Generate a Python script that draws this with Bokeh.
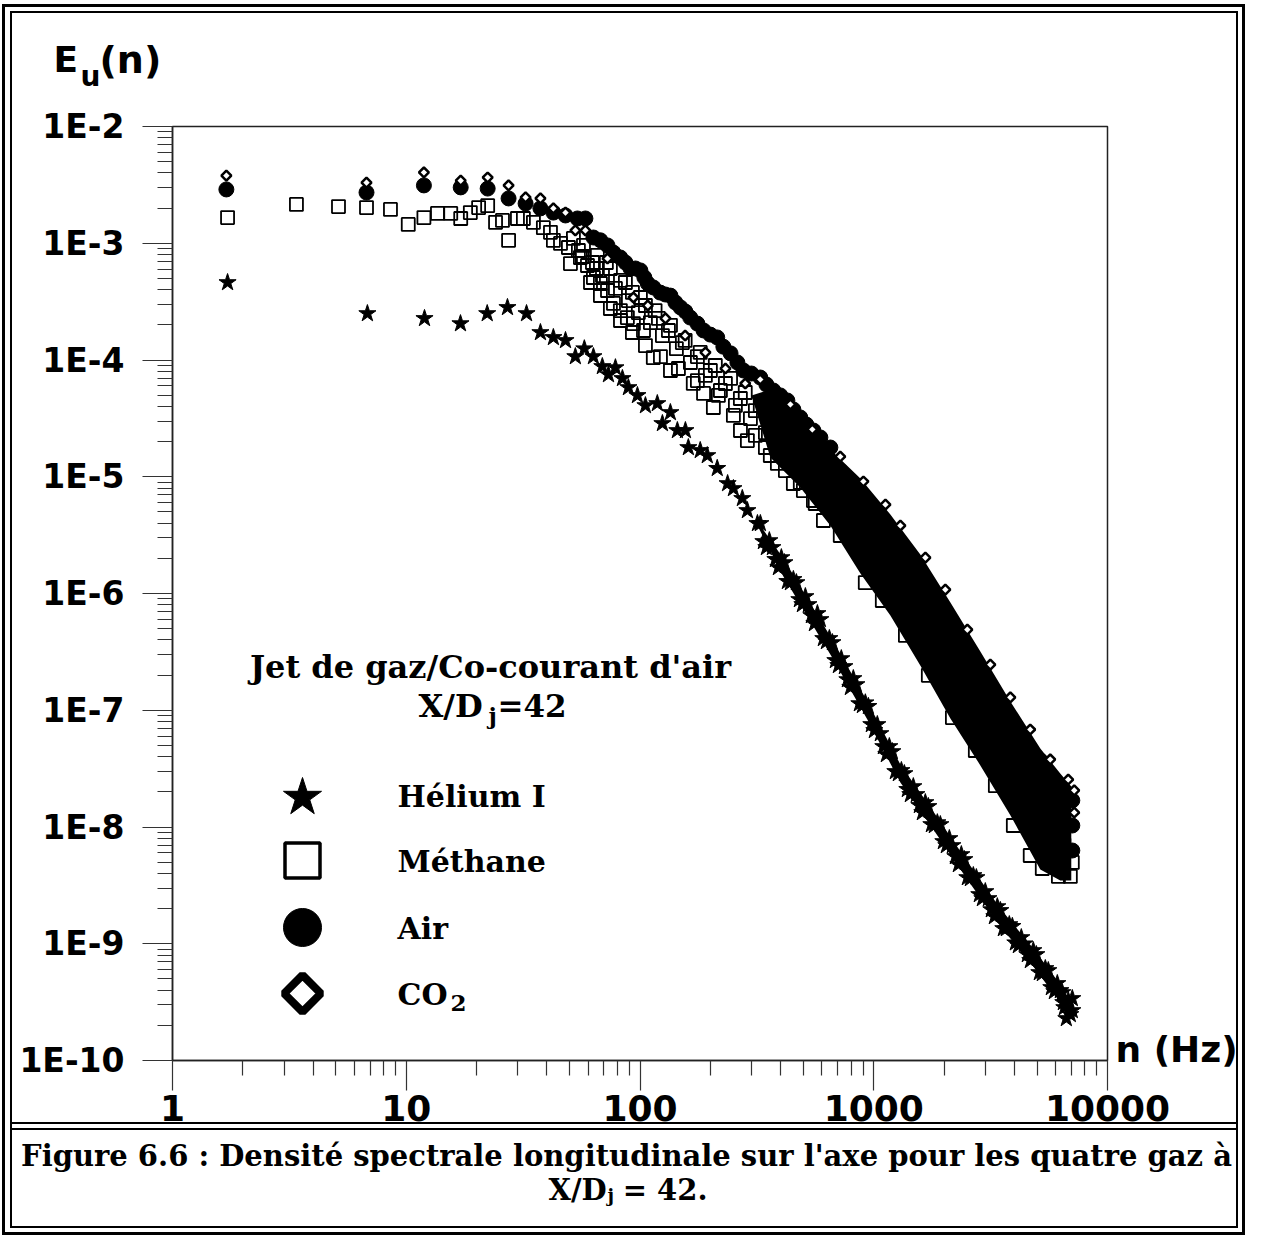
import math
from bokeh.plotting import figure
from bokeh.models import FixedTicker, CustomJSTickFormatter, Label
from bokeh.embed import file_html
from bokeh.resources import INLINE

# ---------------- data ----------------
x_ticks = [1, 10, 100, 1000, 10000]
x_tick_labels = ["1", "10", "100", "1000", "10000"]
y_ticks = [1e-10, 1e-9, 1e-8, 1e-7, 1e-6, 1e-5, 1e-4, 1e-3, 1e-2]
y_tick_labels = ["1E-10", "1E-9", "1E-8", "1E-7", "1E-6", "1E-5", "1E-4", "1E-3", "1E-2"]

helium_n = [1.72, 6.82, 11.97, 17.06, 22.2, 27.1, 32.7, 37.5, 42.6, 48.0,
            52.9, 57.8, 63.2, 69.0, 73.3, 78.5, 84.1, 89.2, 97.5, 105.5,
            118.6, 124.7, 134.9, 144.5, 156.4, 161, 181, 194, 214, 237,
            251, 274, 288, 318,
            327.3, 347.2, 368.4, 390.8, 414.7, 439.9, 466.7, 495.1, 525.3, 557.3,
            591.1, 627.2, 665.4, 705.8, 748.8, 794.2, 842.6, 894.0, 948.3, 1006,
            1067, 1132, 1201, 1274, 1352, 1434, 1521, 1614, 1712, 1816,
            1927, 2044, 2169, 2301, 2441, 2590, 2748, 2915, 3093, 3281,
            3480, 3692, 3917, 4155, 4409, 4676, 4961, 5262, 5582, 5923,
            6283, 6535, 6798, 6933, 6665, 7070, 7070, 6408,
            337.2, 357.6, 379.5, 402.5, 427.0, 453.1, 480.6, 509.9, 540.9, 574.0,
            608.6, 645.8, 685.1, 726.6, 771.2, 817.9, 867.9, 920.6, 976.5, 1036,
            1099, 1166, 1237, 1313, 1392, 1477, 1567, 1662, 1764, 1871,
            1985, 2106, 2234, 2370, 2514, 2667, 2829, 3001, 3184, 3378,
            3584, 3802, 4034, 4279, 4539, 4815, 5109, 5420, 5750, 6100,
            6471]
helium_e = [4.61e-4, 2.50e-4, 2.27e-4, 2.05e-4, 2.50e-4, 2.82e-4, 2.50e-4, 1.72e-4, 1.56e-4, 1.47e-4,
            1.07e-4, 1.25e-4, 1.07e-4, 8.8e-5, 7.5e-5, 8.6e-5, 6.95e-5, 5.81e-5, 4.97e-5, 4.07e-5,
            4.24e-5, 2.86e-5, 3.55e-5, 2.49e-5, 2.49e-5, 1.78e-5, 1.68e-5, 1.52e-5, 1.18e-5, 8.75e-6,
            7.93e-6, 6.52e-6, 5.14e-6, 3.98e-6,
            3.98e-6, 2.48e-6, 2.48e-6, 1.67e-6, 1.84e-6, 1.24e-6, 1.24e-6, 8.05e-7, 8.05e-7, 5.53e-7,
            5.99e-7, 3.88e-7, 3.80e-7, 2.42e-7, 2.37e-7, 1.57e-7, 1.66e-7, 1.10e-7, 1.08e-7, 6.71e-8,
            6.32e-8, 4.18e-8, 4.43e-8, 2.87e-8, 2.87e-8, 1.90e-8, 1.90e-8, 1.33e-8, 1.50e-8, 1.03e-8,
            1.05e-8, 6.94e-9, 6.94e-9, 4.77e-9, 5.27e-9, 3.62e-9, 3.69e-9, 2.44e-9, 2.44e-9, 1.71e-9,
            1.93e-9, 1.35e-9, 1.41e-9, 9.66e-10, 1.00e-9, 7.19e-10, 8.09e-10, 5.56e-10, 5.90e-10, 3.90e-10,
            3.98e-10, 2.84e-10, 3.27e-10, 2.48e-10, 2.29e-10, 3.40e-10, 2.68e-10, 3.82e-10,
            2.79e-6, 2.84e-6, 1.96e-6, 2.03e-6, 1.27e-6, 1.32e-6, 8.88e-7, 9.42e-7, 6.48e-7, 6.74e-7,
            4.12e-7, 4.12e-7, 2.67e-7, 2.77e-7, 1.83e-7, 1.87e-7, 1.14e-7, 1.16e-7, 7.55e-8, 7.55e-8,
            4.89e-8, 4.89e-8, 2.99e-8, 3.05e-8, 2.10e-8, 2.22e-8, 1.53e-8, 1.62e-8, 1.05e-8, 1.09e-8,
            7.51e-9, 7.97e-9, 5.59e-9, 5.81e-9, 3.69e-9, 3.84e-9, 2.64e-9, 2.80e-9, 1.96e-9, 2.08e-9,
            1.35e-9, 1.46e-9, 1.02e-9, 1.13e-9, 8.09e-10, 8.75e-10, 5.67e-10, 6.14e-10, 4.22e-10, 4.57e-10,
            3.14e-10]

methane_n = [1.72, 3.39, 5.13, 6.76, 8.56, 10.2, 11.9, 13.6, 15.5, 17.1,
             18.8, 20.4, 22.3, 24.1, 25.8, 27.4, 29.9, 31.7, 35.0, 38.6,
             41.4, 42.6, 45.7, 49.4, 50.4, 55.6, 59.6, 63.2, 67.7, 72.6,
             77.0, 82.4, 88.3, 93.7, 103.5, 114, 135, 169, 187, 206,
             269, 288, 387, 453, 552, 609,
             51.9, 57.3, 65.7, 74.7, 86.6, 100.4, 116, 135, 156, 181,
             210, 244, 282, 327, 379, 440, 510, 591,
             54.5, 62.6, 69.1, 78.5, 89.2, 98.4, 110.8, 124.7, 143.1, 164.3,
             190.4, 220.8, 255.9, 296.7, 343.9, 398.6, 462.0, 535.6,
             56.7, 65.1, 71.8, 82.5, 92.8, 105.5, 119.9, 132.3, 151.8, 176.0,
             200.0, 231.9, 268.8, 311.6, 361.2, 418.8, 485.3,
             61.4, 67.7, 74.7, 82.5, 92.8, 105.5, 122.3, 146.0, 176.0, 216.4,
             250.9, 311.6, 343.9, 418.8, 500.0,
             361, 485, 562, 719, 920, 1088, 1366, 1712, 2170, 2720,
             3313, 3955, 4671, 5260, 6166, 6934, 7070]
methane_e = [1.66e-3, 2.15e-3, 2.06e-3, 2.02e-3, 1.95e-3, 1.45e-3, 1.66e-3, 1.80e-3, 1.80e-3, 1.63e-3,
             1.83e-3, 2.02e-3, 2.10e-3, 1.51e-3, 1.57e-3, 1.06e-3, 1.63e-3, 1.63e-3, 1.51e-3, 1.36e-3,
             1.24e-3, 1.06e-3, 9.96e-4, 9.2e-4, 6.7e-4, 7.55e-4, 6.45e-4, 5.09e-4, 4.52e-4, 3.94e-4,
             3.05e-4, 2.65e-4, 2.31e-4, 2.05e-4, 1.79e-4, 1.05e-4, 8.13e-5, 6.3e-5, 5.17e-5, 3.92e-5,
             2.49e-5, 2.04e-5, 1.30e-5, 8.75e-6, 6.26e-6, 4.22e-6,
             1.10e-3, 9.58e-4, 7.86e-4, 6.08e-4, 4.61e-4, 3.43e-4, 2.65e-4, 1.98e-4, 1.47e-4, 1.16e-4,
             8.97e-5, 6.95e-5, 5.27e-5, 4.08e-5, 3.03e-5, 2.17e-5, 1.61e-5, 1.13e-5,
             8.67e-4, 6.84e-4, 5.29e-4, 4.10e-4, 3.23e-4, 2.55e-4, 2.09e-4, 1.62e-4, 1.25e-4, 9.52e-5,
             7.37e-5, 5.48e-5, 4.08e-5, 3.15e-5, 2.39e-5, 1.78e-5, 1.25e-5, 9.29e-6,
             7.70e-4, 6.08e-4, 6.84e-4, 4.80e-4, 3.79e-4, 2.93e-4, 2.27e-4, 1.79e-4, 1.41e-4, 1.07e-4,
             8.13e-5, 6.29e-5, 4.68e-5, 3.69e-5, 2.75e-5, 2.04e-5, 1.43e-5,
             4.61e-4, 3.57e-4, 2.76e-4, 2.18e-4, 1.72e-4, 1.33e-4, 1.07e-4, 8.46e-5, 6.67e-5, 4.97e-5,
             3.35e-5, 2.26e-5, 1.78e-5, 1.13e-5, 7.62e-6,
             1.52e-5, 8.93e-6, 5.90e-6, 3.14e-6, 1.24e-6, 8.71e-7, 4.37e-7, 1.99e-7, 8.66e-8, 4.52e-8,
             2.26e-8, 1.03e-8, 5.70e-9, 4.41e-9, 3.77e-9, 3.77e-9, 4.97e-9]

air_n = [1.70, 6.76, 11.9, 17.1, 22.3, 27.4, 32.4, 37.5, 42.6, 48.0,
         54.0, 58.4, 63.2, 72.6, 82.4, 91.0, 100.4, 108, 122, 135,
         149, 164, 187, 214, 244, 277, 327, 372, 427, 485,
         552, 719, 1067, 1582, 2344, 3477, 5160, 7070, 7070, 7070,
         67.7, 76.9, 86.6, 95.6, 104.4, 114.1, 128.4, 141.7, 156.4, 176.0,
         200.0, 227.3, 261.0, 299.6, 347.2, 398.6, 453.1, 514.8, 591.1, 652.2]
air_e = [2.89e-3, 2.72e-3, 3.13e-3, 3.01e-3, 2.94e-3, 2.42e-3, 2.19e-3, 1.99e-3, 1.83e-3, 1.73e-3,
         1.63e-3, 1.63e-3, 1.12e-3, 9.58e-4, 7.55e-4, 6.08e-4, 5.85e-4, 4.52e-4, 3.78e-4, 3.56e-4,
         2.82e-4, 2.31e-4, 1.79e-4, 1.56e-4, 1.14e-4, 8.13e-5, 7.08e-5, 5.48e-5, 4.50e-5, 3.22e-5,
         2.49e-5, 1.13e-5, 3.82e-6, 1.29e-6, 3.96e-7, 1.21e-7, 3.72e-8, 1.69e-8, 1.03e-8, 6.29e-9,
         1.06e-3, 8.33e-4, 6.84e-4, 6.08e-4, 5.09e-4, 4.18e-4, 3.64e-4, 3.11e-4, 2.60e-4, 2.05e-4,
         1.65e-4, 1.30e-4, 9.52e-5, 7.66e-5, 6.17e-5, 4.97e-5, 3.77e-5, 2.80e-5, 2.17e-5, 1.78e-5]

co2_n = [1.70, 6.76, 11.9, 17.1, 22.3, 27.4, 32.4, 37.5, 42.6, 48.0,
         52.9, 58.4, 72.6, 93.7, 108, 128.5, 156, 190.5, 232, 282,
         327, 440, 546, 719, 903, 1122, 1300, 1663, 2024, 2514,
         3153, 3840, 4671, 5690, 6792, 7206, 7206]
co2_e = [3.80e-3, 3.31e-3, 4.04e-3, 3.44e-3, 3.66e-3, 3.13e-3, 2.47e-3, 2.42e-3, 1.99e-3, 1.83e-3,
         1.29e-3, 1.29e-3, 7.40e-4, 3.43e-4, 2.93e-4, 2.27e-4, 1.62e-4, 1.16e-4, 8.45e-5, 6.29e-5,
         6.81e-5, 4.16e-5, 2.54e-5, 1.49e-5, 9.11e-6, 5.78e-6, 3.82e-6, 2.03e-6, 1.08e-6, 4.91e-7,
         2.46e-7, 1.29e-7, 6.84e-8, 3.79e-8, 2.55e-8, 2.06e-8, 1.33e-8]

# scatter range (upper / lower extent) of the dense high-frequency spectra
helium_band_n = [318, 410.6, 485, 671.8, 938.9, 1300, 1798, 2514, 3480, 4815, 6283, 6798]
helium_band_hi = [4.14e-6, 1.99e-6, 1.15e-6, 3.88e-7, 1.19e-7, 3.43e-8, 1.36e-8, 5.06e-9, 2.00e-9, 9.11e-10, 4.48e-10, 3.40e-10]
helium_band_lo = [3.82e-6, 1.40e-6, 8.05e-7, 2.72e-7, 8.33e-8, 2.40e-8, 9.52e-9, 3.55e-9, 1.41e-9, 6.39e-10, 3.14e-10, 2.38e-10]

band_n = [300, 361, 485, 652, 877, 1178, 1582, 2128, 2858, 3840, 5160, 6280, 7000]
co2_band_hi = [4.97e-5, 5.58e-5, 3.15e-5, 1.71e-5, 9.66e-6, 4.75e-6, 2.16e-6, 8.38e-7, 3.18e-7, 1.19e-7, 4.70e-8, 2.87e-8, 2.22e-8]
co2_band_lo = [4.97e-5, 2.44e-5, 1.38e-5, 7.48e-6, 4.22e-6, 2.07e-6, 9.42e-7, 3.66e-7, 1.39e-7, 5.19e-8, 2.06e-8, 1.26e-8, 9.7e-9]
air_band_hi = [4.97e-5, 3.62e-5, 2.04e-5, 1.11e-5, 6.26e-6, 3.08e-6, 1.40e-6, 5.42e-7, 2.07e-7, 7.71e-8, 3.05e-8, 1.86e-8, 1.44e-8]
air_band_lo = [4.97e-5, 2.25e-5, 1.25e-5, 5.90e-6, 2.29e-6, 1.00e-6, 3.73e-7, 1.31e-7, 5.19e-8, 1.94e-8, 6.67e-9, 5.37e-9, 5.37e-9]
methane_band_hi = [4.97e-5, 3.35e-5, 1.85e-5, 8.75e-6, 3.40e-6, 1.48e-6, 5.53e-7, 1.95e-7, 7.71e-8, 2.87e-8, 9.9e-9, 7.97e-9, 7.97e-9]
methane_band_lo = [4.97e-5, 1.46e-5, 8.09e-6, 3.82e-6, 1.48e-6, 6.49e-7, 2.42e-7, 8.49e-8, 3.37e-8, 1.26e-8, 4.33e-9, 3.48e-9, 3.48e-9]

legend_labels = ["Hélium I", "Méthane", "Air", "CO"]

# ---------------- layout helpers (figure pixel -> data position, for texts only) ----------------
FL, FT, FR, FB = 172, 126, 1107, 1060      # plot frame in figure pixels
def XD(px):
    return 10 ** ((px - FL) / ((FR - FL) / 4.0))

def YD(py):
    return 10 ** (-2 - (py - FT) / ((FB - FT) / 8.0))

W, H = 1247, 1238
SANS = "DejaVu Sans"
SERIF = "DejaVu Serif"

# double frame + caption separator painted as CSS background behind a transparent canvas
rule_boxes = [  # x, y, w, h
    (2, 4, 1243, 3), (2, 1232, 1243, 3), (2, 4, 3, 1231), (1242, 4, 3, 1231),
    (10, 11, 1228, 2), (10, 1226, 1228, 2), (10, 11, 2, 1217), (1236, 11, 2, 1217),
    (10, 1122, 1228, 2), (10, 1128, 1228, 2),
]
css_bg = ", ".join(f"linear-gradient(#000,#000) {x}px {y}px / {w}px {h}px no-repeat"
                   for (x, y, w, h) in rule_boxes) + ", #ffffff"

p = figure(width=W, height=H, x_axis_type="log", y_axis_type="log",
           x_range=(1, 10000), y_range=(1e-10, 1e-2),
           output_backend="svg", toolbar_location=None, title=None,
           min_border_left=FL, min_border_right=W - FR, min_border_top=FT, min_border_bottom=H - FB)
p.styles = {"background": css_bg}
p.grid.visible = False
p.background_fill_color = "white"
p.border_fill_color = None
p.outline_line_color = "#222222"
p.outline_line_width = 1.5

x_minor = [m * 10 ** k for k in range(0, 4) for m in range(2, 10)]
y_minor = [m * 10.0 ** k for k in range(-10, -2) for m in range(2, 10)]
p.xaxis.ticker = FixedTicker(ticks=x_ticks, minor_ticks=x_minor)
p.yaxis.ticker = FixedTicker(ticks=y_ticks, minor_ticks=y_minor)
fmt_code = """
for (let i = 0; i < vals.length; i++) {
  if (Math.abs(Math.log10(vals[i]) - Math.log10(tick)) < 1e-6) { return labs[i]; }
}
return "";
"""
p.xaxis.formatter = CustomJSTickFormatter(args=dict(vals=x_ticks, labs=x_tick_labels), code=fmt_code)
p.yaxis.formatter = CustomJSTickFormatter(args=dict(vals=y_ticks, labs=y_tick_labels), code=fmt_code)

for ax in (p.xaxis[0], p.yaxis[0]):
    ax.major_tick_out = 30
    ax.major_tick_in = 0
    ax.minor_tick_out = 15
    ax.minor_tick_in = 0
    ax.axis_line_color = "#222222"
    ax.axis_line_width = 1.5
    ax.major_tick_line_color = "#333333"
    ax.minor_tick_line_color = "#333333"
    ax.major_tick_line_width = 1.2
    ax.minor_tick_line_width = 1.2
    ax.major_label_text_font = SANS
    ax.major_label_text_font_style = "bold"
    ax.major_label_text_color = "black"
p.yaxis.major_label_text_font_size = "33px"
p.xaxis.major_label_text_font_size = "36px"
p.yaxis.major_label_standoff = 18
p.xaxis.major_label_standoff = 4

# ---------------- data marks ----------------
p.varea(x=helium_band_n, y1=helium_band_lo, y2=helium_band_hi, fill_color="black")
for hi, lo in ((methane_band_hi, methane_band_lo), (air_band_hi, air_band_lo), (co2_band_hi, co2_band_lo)):
    p.varea(x=band_n, y1=lo, y2=hi, fill_color="black")

p.scatter(methane_n, methane_e, marker="square", size=13, fill_color=None,
          line_color="black", line_width=1.8)
p.scatter(helium_n, helium_e, marker="star", size=18, fill_color="black", line_color="black")
p.scatter(air_n, air_e, marker="circle", size=15, fill_color="black", line_color="black")
p.scatter(co2_n, co2_e, marker="square", angle=math.pi / 4, size=7, fill_color="white",
          line_color="black", line_width=2.5)

# ---------------- legend keys ----------------
p.scatter([XD(302)], [YD(797)], marker="star", size=40, fill_color="black", line_color="black")
p.scatter([XD(302)], [YD(860)], marker="square", size=35, fill_color=None, line_color="black", line_width=3.5)
p.scatter([XD(302)], [YD(927)], marker="circle", size=38, fill_color="black", line_color="black")
p.scatter([XD(302)], [YD(993)], marker="square", angle=math.pi / 4, size=26, fill_color="white",
          line_color="black", line_width=8)

def lab(px, py, text, size, font=SERIF, align="left", place="center"):
    l = Label(x=XD(px), y=YD(py), text=text, text_font=font, text_font_style="bold",
              text_font_size=f"{size}px", text_align=align, text_baseline="alphabetic",
              text_color="black")
    p.add_layout(l, place)

for py, t in zip([796, 861, 928, 994], legend_labels):
    lab(397, py, t, 30)
lab(450, 1002, "2", 23)

lab(490, 666, "Jet de gaz/Co-courant d'air", 32, align="center")
lab(418, 705, "X/D", 32)
lab(488, 715, "j", 23)
lab(497, 705, "=42", 31)

# axis titles (in the side panels, outside the plot frame)
lab(53, 59, "E", 36, font=SANS, place="above")
lab(80, 76, "u", 28, font=SANS, place="above")
lab(99, 59, "(n)", 38, font=SANS, place="above")
lab(1115, 1049, "n (Hz)", 36, font=SANS, place="right")

# caption
lab(626, 1155, "Figure 6.6 : Densité spectrale longitudinale sur l'axe pour les quatre gaz à", 29,
    align="center", place="below")
lab(548, 1189, "X/D\u2009 = 42.", 29, place="below")
lab(607, 1195, "j", 18, place="left")

open("out.html", "w").write(file_html(p, INLINE))
